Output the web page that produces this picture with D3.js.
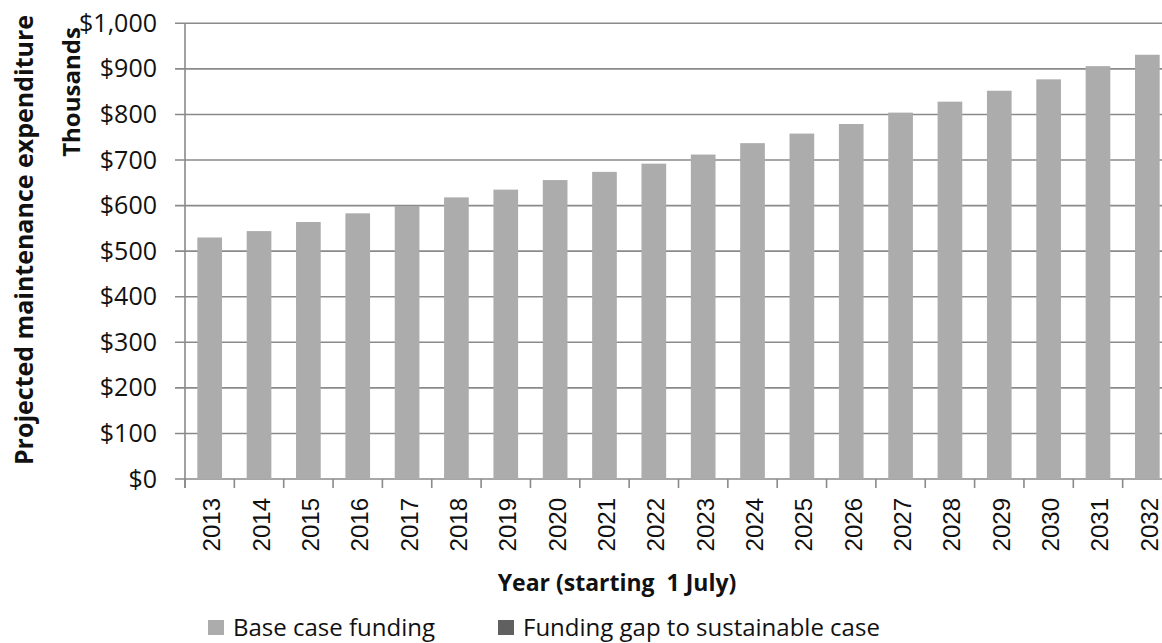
<!DOCTYPE html>
<html>
<head>
<meta charset="utf-8">
<script src="https://cdn.jsdelivr.net/npm/d3@7"></script>
<style>
  html, body { margin: 0; padding: 0; background: #ffffff; }
  svg { display: block; }
  text { fill: #111111; }
</style>
</head>
<body>
<svg id="chart" width="1162" height="643"></svg>
<script>
// Projected maintenance expenditure ($ thousands) by year
const years = ["2013", "2014", "2015", "2016", "2017", "2018", "2019", "2020", "2021", "2022",
               "2023", "2024", "2025", "2026", "2027", "2028", "2029", "2030", "2031", "2032"];
const baseCaseFunding = [530, 544, 564, 583, 599, 618, 635, 656, 674, 692,
                         712, 737, 758, 779, 804, 828, 852, 877, 906, 931];
const fundingGap = [0, 0, 0, 0, 0, 0, 0, 0, 0, 0,
                    0, 0, 0, 0, 0, 0, 0, 0, 0, 0];
const seriesKeys = ["base", "gap"];
const seriesNames = ["Base case funding", "Funding gap to sustainable case"];
const seriesColors = ["#acacac", "#606060"];
const yTickValues = [0, 100, 200, 300, 400, 500, 600, 700, 800, 900, 1000];

const svg = d3.select("#chart");

const plot = { left: 185, right: 1172, top: 23.3, bottom: 479 };

const x = d3.scaleBand()
  .domain(years)
  .range([plot.left, plot.right])
  .paddingInner(0.5)
  .paddingOuter(0.25);

const y = d3.scaleLinear()
  .domain([0, 1000])
  .range([plot.bottom, plot.top]);

const gridColor = "#8a8a8a";

// Horizontal gridlines (with a short outer tick on the left)
svg.append("g")
  .selectAll("line")
  .data(yTickValues)
  .join("line")
  .attr("x1", plot.left - 10)
  .attr("x2", plot.right)
  .attr("y1", d => y(d))
  .attr("y2", d => y(d))
  .attr("stroke", gridColor)
  .attr("stroke-width", 1.6);

// Stacked bars
const rows = years.map((yr, i) => ({ year: yr, base: baseCaseFunding[i], gap: fundingGap[i] }));
const stacked = d3.stack().keys(seriesKeys)(rows);

svg.append("g")
  .selectAll("g")
  .data(stacked)
  .join("g")
  .attr("fill", (d, i) => seriesColors[i])
  .selectAll("rect")
  .data(d => d)
  .join("rect")
  .attr("x", d => x(d.data.year))
  .attr("width", x.bandwidth())
  .attr("y", d => y(d[1]))
  .attr("height", d => y(d[0]) - y(d[1]));

// Vertical value axis line
svg.append("line")
  .attr("x1", plot.left).attr("x2", plot.left)
  .attr("y1", plot.top).attr("y2", plot.bottom + 9)
  .attr("stroke", gridColor)
  .attr("stroke-width", 1.6);

// Category boundary ticks below the baseline
const step = x.step();
svg.append("g")
  .selectAll("line")
  .data(d3.range(years.length + 1))
  .join("line")
  .attr("x1", i => plot.left + i * step)
  .attr("x2", i => plot.left + i * step)
  .attr("y1", plot.bottom)
  .attr("y2", plot.bottom + 9)
  .attr("stroke", gridColor)
  .attr("stroke-width", 1.6);

// Y axis tick labels
const yAxis = d3.axisLeft(y)
  .tickValues(yTickValues)
  .tickSize(0)
  .tickPadding(0)
  .tickFormat(d => "$" + d3.format(",")(d));

const yAxisG = svg.append("g")
  .attr("transform", `translate(${plot.left - 28},0)`)
  .call(yAxis);
yAxisG.select(".domain").remove();
yAxisG.selectAll("text")
  .attr("font-family", "'Open Sans', sans-serif")
  .attr("font-size", 25)
  .attr("fill", "#111");

// X axis category labels (rotated)
const xAxis = d3.axisBottom(x).tickSize(0).tickPadding(0);
const xAxisG = svg.append("g")
  .attr("transform", `translate(0,${plot.bottom})`)
  .call(xAxis);
xAxisG.select(".domain").remove();
xAxisG.selectAll("text")
  .attr("font-family", "'Liberation Sans', Arial, sans-serif")
  .attr("font-size", 24)
  .attr("fill", "#111")
  .attr("text-anchor", "end")
  .attr("dy", null)
  .attr("y", null)
  .attr("transform", "translate(10.5,19) rotate(-90)");

// Axis titles
svg.append("text")
  .attr("transform", "translate(33,240) rotate(-90)")
  .attr("text-anchor", "middle")
  .attr("font-family", "'Open Sans', sans-serif")
  .attr("font-weight", 700)
  .attr("font-size", 25)
  .text("Projected maintenance expenditure");

svg.append("text")
  .attr("transform", "translate(80,92) rotate(-90)")
  .attr("text-anchor", "middle")
  .attr("font-family", "'Open Sans', sans-serif")
  .attr("font-weight", 700)
  .attr("font-size", 24)
  .text("Thousands");

svg.append("text")
  .attr("x", 617)
  .attr("y", 591)
  .attr("text-anchor", "middle")
  .attr("font-family", "'Open Sans', sans-serif")
  .attr("font-weight", 700)
  .attr("font-size", 23)
  .attr("xml:space", "preserve")
  .style("white-space", "pre")
  .text("Year (starting  1 July)");

// Legend
const legendX = [208, 498];
const legend = svg.append("g")
  .selectAll("g")
  .data(seriesNames)
  .join("g")
  .attr("transform", (d, i) => `translate(${legendX[i]},0)`);

legend.append("rect")
  .attr("x", 0).attr("y", 620)
  .attr("width", 16).attr("height", 15)
  .attr("fill", (d, i) => seriesColors[i]);

legend.append("text")
  .attr("x", 25).attr("y", 636)
  .attr("font-family", "'Open Sans', sans-serif")
  .attr("font-size", 24)
  .text(d => d);
</script>
</body>
</html>
